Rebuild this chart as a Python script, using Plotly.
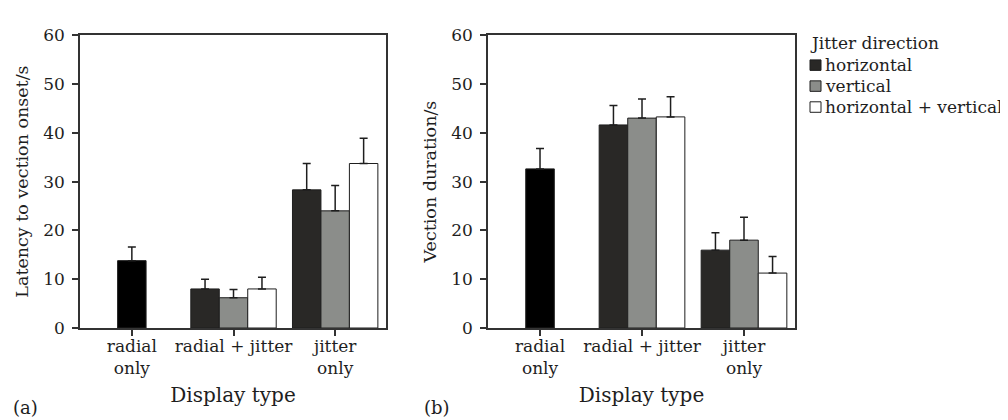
import plotly.graph_objects as go
from plotly.subplots import make_subplots

# ---- data ----
categories = ["radial<br>only", "radial + jitter", "jitter<br>only"]
jitter_categories = ["radial + jitter", "jitter<br>only"]
series_names = ["horizontal", "vertical", "horizontal + vertical"]

# Panel (a): latency to vection onset (s), upper error (s)
latency_radial_only = [13.8]
latency_radial_only_err = [2.8]
latency_horizontal = [8.0, 28.3]
latency_horizontal_err = [2.0, 5.4]
latency_vertical = [6.2, 24.0]
latency_vertical_err = [1.7, 5.2]
latency_hv = [8.0, 33.7]
latency_hv_err = [2.4, 5.2]

# Panel (b): vection duration (s), upper error (s)
duration_radial_only = [32.6]
duration_radial_only_err = [4.2]
duration_horizontal = [41.6, 15.95]
duration_horizontal_err = [4.0, 3.55]
duration_vertical = [43.0, 18.0]
duration_vertical_err = [3.9, 4.7]
duration_hv = [43.25, 11.25]
duration_hv_err = [4.15, 3.4]

y_ticks = [0, 10, 20, 30, 40, 50, 60]

# ---- style ----
FONT = "DejaVu Serif"
INK = "#1e1e1e"
AXIS = "#333333"
colors = ["#292826", "#8b8d8a", "#ffffff"]
radial_color = "#000000"
bar_w = 0.28
offsets = [-0.42, -0.14, 0.14]

fig = make_subplots(rows=1, cols=2, horizontal_spacing=0.1)


def err(vals):
    return dict(type="data", array=vals, arrayminus=[0] * len(vals), symmetric=False,
                color=INK, thickness=1.5, width=4)


def add_panel(col, radial, radial_err, groups):
    fig.add_trace(go.Bar(x=["radial<br>only"], y=radial, error_y=err(radial_err),
                         width=bar_w, offset=-bar_w / 2, marker=dict(color=radial_color,
                         line=dict(color=INK, width=1)), showlegend=False), row=1, col=col)
    for (vals, e), name, c, off in zip(groups, series_names, colors, offsets):
        fig.add_trace(go.Bar(x=jitter_categories, y=vals, error_y=err(e), name=name,
                             width=bar_w, offset=off,
                             marker=dict(color=c, line=dict(color=INK, width=1)),
                             showlegend=False), row=1, col=col)


add_panel(1, latency_radial_only, latency_radial_only_err,
          [(latency_horizontal, latency_horizontal_err),
           (latency_vertical, latency_vertical_err),
           (latency_hv, latency_hv_err)])
add_panel(2, duration_radial_only, duration_radial_only_err,
          [(duration_horizontal, duration_horizontal_err),
           (duration_vertical, duration_vertical_err),
           (duration_hv, duration_hv_err)])

W, H = 1008, 420
px = lambda v: v / W
py = lambda v: 1 - v / H

axis_common = dict(showline=True, linecolor=AXIS, linewidth=1.5, mirror=True,
                   ticks="outside", ticklen=6, tickwidth=1.5, tickcolor=AXIS,
                   showgrid=False, zeroline=False,
                   tickfont=dict(family=FONT, size=17, color=INK))

xaxis_extra = dict(type="category", categoryorder="array", categoryarray=categories,
                   range=[-0.51, 2.5], ticklabelstandoff=-4,
                   title=dict(text="Display type", font=dict(family=FONT, size=20, color=INK), standoff=11))

fig.update_layout(
    width=W, height=H, barmode="overlay",
    margin=dict(l=0, r=0, t=0, b=0),
    paper_bgcolor="white", plot_bgcolor="white",
    font=dict(family=FONT, size=17, color=INK),
    showlegend=False,
    xaxis=dict(domain=[px(72), px(378)], **xaxis_extra, **axis_common),
    xaxis2=dict(domain=[px(480), px(787)], **xaxis_extra, **axis_common),
    yaxis=dict(domain=[py(325.5), py(18)], range=[0, 60], tickvals=y_ticks, ticklabelstandoff=4,
               title=dict(text="Latency to vection onset/s", font=dict(family=FONT, size=17.5, color=INK), standoff=10),
               **axis_common),
    yaxis2=dict(domain=[py(325.5), py(18)], range=[0, 60], tickvals=y_ticks, ticklabelstandoff=4,
                title=dict(text="Vection duration/s", font=dict(family=FONT, size=17.5, color=INK), standoff=10),
                **axis_common),
)

# ---- legend (drawn manually to match the compact layout) ----
annotations = [
    dict(text="Jitter direction", x=px(800), y=py(26), xref="paper", yref="paper",
         xanchor="left", yanchor="middle", showarrow=False, font=dict(family=FONT, size=17, color=INK)),
    dict(text="(a)", x=px(3), y=py(409), xref="paper", yref="paper",
         xanchor="left", yanchor="middle", showarrow=False, font=dict(family=FONT, size=18, color=INK)),
    dict(text="(b)", x=px(414), y=py(409), xref="paper", yref="paper",
         xanchor="left", yanchor="middle", showarrow=False, font=dict(family=FONT, size=18, color=INK)),
]
shapes = []
for i, (name, c) in enumerate(zip(series_names, colors)):
    cy = 49.5 + 22 * i
    shapes.append(dict(type="rect", xref="paper", yref="paper",
                       x0=px(802), x1=px(813), y0=py(cy + 5.5), y1=py(cy - 5.5),
                       fillcolor=c, line=dict(color=INK, width=1)))
    annotations.append(dict(text=name, x=px(815), y=py(cy - 0.5), xref="paper", yref="paper",
                            xanchor="left", yanchor="middle", showarrow=False,
                            font=dict(family=FONT, size=17, color=INK)))
fig.update_layout(annotations=annotations, shapes=shapes)

fig.write_html("out.html")
